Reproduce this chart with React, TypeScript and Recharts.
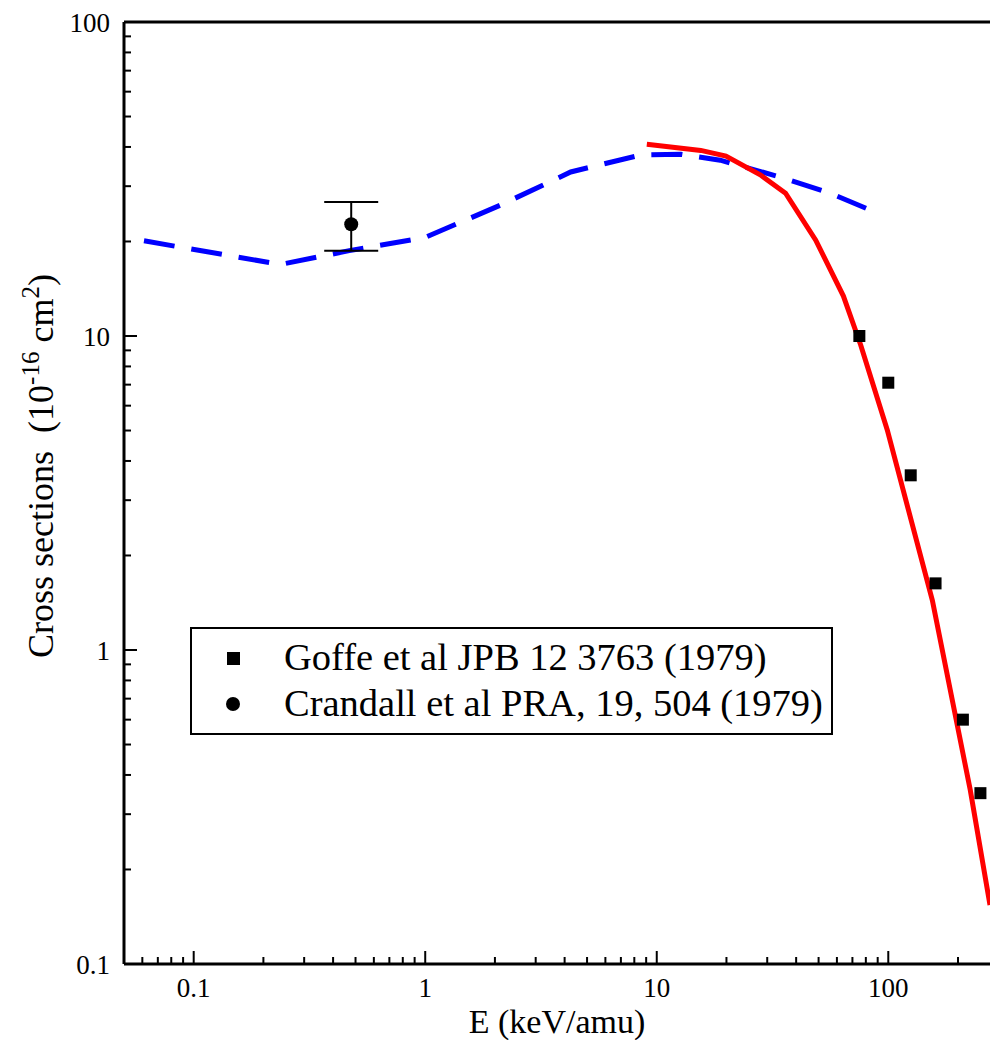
import React from 'react';
import { ComposedChart, Line, Scatter, XAxis, YAxis, ErrorBar, Legend } from 'recharts';

// theory curves, E in keV/amu, cross sections in 1e-16 cm^2
const dashedE = [0.061, 0.237, 0.47, 1, 2.11, 4.25, 8.5, 12.7, 18.8, 34, 56, 88];
const dashedS = [20.1, 16.9, 18.7, 20.6, 26.1, 33.3, 37.7, 37.9, 36.3, 32.1, 28.5, 24.8];

const solidE = [9.06, 15.5, 19.9, 28, 36, 48.6, 64, 76, 99, 155, 226, 275];
const solidS = [40.8, 39, 37.4, 32.6, 28.5, 20.2, 13.4, 9.36, 5.02, 1.44, 0.358, 0.154];

// Goffe et al
const goffeE = [75, 100, 125, 160, 210, 250];
const goffeS = [10.0, 7.1, 3.6, 1.63, 0.6, 0.35];

// Crandall et al
const crandallE = [0.479];
const crandallS = [22.7];
const crandallErr = [4.0];

const xMajor = [0.1, 1, 10, 100];
const xTicks = [0.06, 0.07, 0.08, 0.09, 0.1, 0.2, 0.3, 0.4, 0.5, 0.6, 0.7, 0.8, 0.9, 1, 2, 3, 4, 5, 6, 7, 8, 9, 10, 20, 30, 40, 50, 60, 70, 80, 90, 100, 200];
const yMajor = [0.1, 1, 10, 100];
const yTicks = [0.1, 0.2, 0.3, 0.4, 0.5, 0.6, 0.7, 0.8, 0.9, 1, 2, 3, 4, 5, 6, 7, 8, 9, 10, 20, 30, 40, 50, 60, 70, 80, 90, 100];

const FONT = "'Liberation Serif', Tinos, 'Times New Roman', 'DejaVu Serif', serif";

const dashedData = dashedE.map((e, i) => ({ e, s: dashedS[i] }));
const solidData = solidE.map((e, i) => ({ e, s: solidS[i] }));
const goffeData = goffeE.map((e, i) => ({ e, s: goffeS[i] }));
const crandallData = crandallE.map((e, i) => ({ e, s: crandallS[i], err: crandallErr[i] }));

const BottomTick = (props: any) => {
  const { x, y, payload } = props;
  const major = xMajor.includes(payload.value);
  return (
    <g>
      <line x1={x} y1={y} x2={x} y2={y - (major ? 13 : 7)} stroke="#000" strokeWidth={2} />
      {major && (
        <text x={x} y={y + 33} textAnchor="middle" fontSize={27} style={{ fontFamily: FONT }} fill="#000">
          {String(payload.value)}
        </text>
      )}
    </g>
  );
};

const TopTick = (props: any) => {
  const { x, y, payload } = props;
  const major = xMajor.includes(payload.value);
  return <line x1={x} y1={y} x2={x} y2={y + (major ? 13 : 7)} stroke="#000" strokeWidth={2} />;
};

const LeftTick = (props: any) => {
  const { x, y, payload } = props;
  const major = yMajor.includes(payload.value);
  return (
    <g>
      <line x1={x} y1={y} x2={x + (major ? 13 : 7)} y2={y} stroke="#000" strokeWidth={2} />
      {major && (
        <text x={x - 14} y={y + 10} textAnchor="end" fontSize={27} style={{ fontFamily: FONT }} fill="#000">
          {String(payload.value)}
        </text>
      )}
    </g>
  );
};

const YTitle = () => (
  <text
    x={53}
    y={466}
    transform="rotate(-90, 53, 466)"
    textAnchor="middle"
    fontSize={36}
    style={{ fontFamily: FONT }}
    fill="#000"
  >
    {'Cross sections\u00a0 (10'}
    <tspan dy={-14} fontSize={25}>-16</tspan>
    <tspan dy={14}>{'\u00a0cm'}</tspan>
    <tspan dy={-14} fontSize={25}>2</tspan>
    <tspan dy={14}>)</tspan>
  </text>
);

const SquareDot = (props: any) => {
  const { cx, cy } = props;
  return <rect x={cx - 6} y={cy - 6} width={12} height={12} fill="#000" />;
};

const RoundDot = (props: any) => {
  const { cx, cy } = props;
  return <circle cx={cx} cy={cy} r={7} fill="#000" />;
};

const LegendBox = () => (
  <div
    style={{
      width: 639,
      height: 104,
      border: '2px solid #000',
      background: '#fff',
      fontFamily: FONT,
      fontSize: 38.5,
      color: '#000',
      position: 'relative',
    }}
  >
    <div style={{ position: 'absolute', left: 35, top: 23, width: 13, height: 13, background: '#000' }} />
    <div style={{ position: 'absolute', left: 92, top: 5, lineHeight: '46px', whiteSpace: 'nowrap' }}>
      Goffe et al JPB 12 3763 (1979)
    </div>
    <div style={{ position: 'absolute', left: 34, top: 68, width: 14, height: 14, borderRadius: 7, background: '#000' }} />
    <div style={{ position: 'absolute', left: 92, top: 51, lineHeight: '46px', whiteSpace: 'nowrap' }}>
      Crandall et al PRA, 19, 504 (1979)
    </div>
  </div>
);

export default function App() {
  return (
    <div style={{ position: 'absolute', left: 0, top: 0, width: 990, height: 1040, background: '#fff', fontFamily: FONT }}>
      <ComposedChart width={990} height={1040} margin={{ top: 0, right: 0, bottom: 0, left: 0 }} style={{ fontFamily: FONT }}>
        <XAxis
          xAxisId="top"
          orientation="top"
          type="number"
          scale="log"
          domain={[0.05, 275]}
          allowDataOverflow
          ticks={xTicks}
          interval={0}
          height={22}
          tickSize={0}
          tickMargin={0}
          tickLine={false}
          tick={<TopTick />}
          axisLine={{ stroke: '#000', strokeWidth: 3 }}
        />
        <XAxis
          dataKey="e"
          type="number"
          scale="log"
          domain={[0.05, 275]}
          allowDataOverflow
          ticks={xTicks}
          interval={0}
          height={76}
          tickSize={0}
          tickMargin={0}
          tickLine={false}
          tick={<BottomTick />}
          axisLine={{ stroke: '#000', strokeWidth: 3 }}
          label={{
            value: 'E (keV/amu)',
            position: 'insideBottom',
            offset: 7,
            fontSize: 34,
            style: { fontFamily: FONT },
            fill: '#000',
          }}
        />
        <YAxis
          dataKey="s"
          type="number"
          scale="log"
          domain={[0.1, 100]}
          allowDataOverflow
          ticks={yTicks}
          interval={0}
          width={124}
          tickSize={0}
          tickMargin={0}
          tickLine={false}
          tick={<LeftTick />}
          axisLine={{ stroke: '#000', strokeWidth: 3 }}
          label={{ content: () => <YTitle /> }}
        />
        <Legend
          layout="horizontal"
          verticalAlign="middle"
          align="center"
          wrapperStyle={{ left: 190, top: 627, width: 643, height: 108 }}
          content={() => <LegendBox />}
        />
        <Line
          data={dashedData}
          dataKey="s"
          type="linear"
          stroke="#0000ff"
          strokeWidth={5}
          strokeDasharray="31 17"
          dot={false}
          isAnimationActive={false}
        />
        <Line
          data={solidData}
          dataKey="s"
          type="linear"
          stroke="#ff0000"
          strokeWidth={5}
          dot={false}
          isAnimationActive={false}
        />
        <Scatter data={goffeData} dataKey="s" shape={<SquareDot />} isAnimationActive={false} />
        <Scatter data={crandallData} dataKey="s" shape={<RoundDot />} isAnimationActive={false}>
          <ErrorBar dataKey="err" direction="y" width={27} stroke="#000" strokeWidth={2} />
        </Scatter>
      </ComposedChart>
    </div>
  );
}
